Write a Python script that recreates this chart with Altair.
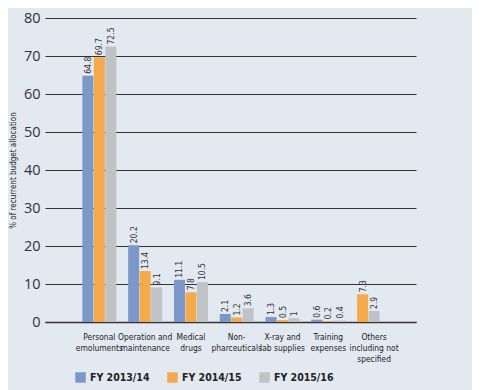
import altair as alt
import pandas as pd

categories = ["Personal|emoluments", "Operation and|maintenance", "Medical|drugs",
              "Non-|pharceuticals", "X-ray and|lab supplies", "Training|expenses",
              "Others|including not|specified"]
series = ["FY 2013/14", "FY 2014/15", "FY 2015/16"]
fy1314 = [64.8, 20.2, 11.1, 2.1, 1.3, 0.6, None]
fy1415 = [69.7, 13.4, 7.8, 1.2, 0.5, 0.2, 7.3]
fy1516 = [72.5, 9.1, 10.5, 3.6, 1.0, 0.4, 2.9]
y_ticks = [0, 10, 20, 30, 40, 50, 60, 70, 80]
colors = ["#7b98c9", "#f4a94b", "#c0c3c6"]

rows = []
for i, cat in enumerate(categories):
    slot = 0
    for s, vals in zip(series, [fy1314, fy1415, fy1516]):
        v = vals[i]
        if v is None:
            continue
        rows.append({"category": cat, "series": s, "value": v, "slot": slot,
                     "label": f"{v:g}"})
        slot += 1
df = pd.DataFrame(rows)

FONT = "DejaVu Sans Condensed, sans-serif"

base = alt.Chart(df).encode(
    x=alt.X("category:N", sort=categories, title=None,
            scale=alt.Scale(paddingInner=0.258, paddingOuter=0.68, align=0.6),
            axis=alt.Axis(labelExpr="split(datum.label, '|')", labelAngle=0,
                          labelFontSize=8.4, labelFont=FONT, labelColor="#222",
                          labelPadding=10, labelLineHeight=11, ticks=False,
                          labelOverlap=False,
                          domainColor="#333", domainWidth=1.5, labelBaseline="top")),
    xOffset=alt.XOffset("slot:O", scale=alt.Scale(domain=[0, 1, 2], paddingInner=0.04)),
)

y_axis = alt.Axis(values=y_ticks, grid=True, labelOverlap=False,
                  gridColor="#333", gridWidth=1.2, domain=False, ticks=False,
                  labelFontSize=14.5, labelFont="Open Sans, sans-serif",
                  labelColor="#333", labelPadding=5,
                  titleFontSize=8, titleFont=FONT, titleColor="#222",
                  titleFontWeight="normal", titlePadding=6)

bars = base.mark_bar().encode(
    y=alt.Y("value:Q", scale=alt.Scale(domain=[0, 80]),
            title="% of recurrent budget allocation", axis=y_axis),
    color=alt.Color("series:N", scale=alt.Scale(domain=series, range=colors),
                    legend=alt.Legend(title=None, orient="none", legendX=30, legendY=354,
                                      direction="horizontal", symbolType="square",
                                      symbolSize=110, symbolStrokeWidth=0,
                                      labelFontSize=10.5, labelFontWeight="bold",
                                      labelFont=FONT, labelColor="#222",
                                      columnPadding=17, labelOffset=4)),
)

texts = base.mark_text(angle=270, align="left", baseline="middle", dx=2,
                       fontSize=8.5, font=FONT, color="#333").encode(
    y=alt.Y("value:Q", scale=alt.Scale(domain=[0, 80]),
            title="% of recurrent budget allocation", axis=y_axis),
    text="label:N",
)

chart = alt.layer(bars, texts).properties(
    width=371, height=304,
    background="#e3e9f0",
    padding={"left": 37, "top": 10, "right": 56, "bottom": 68},
    autosize=alt.AutoSizeParams(type="none"),
).configure_view(stroke=None)

chart.save("out.html", embed_options={"renderer": "svg", "actions": False})
